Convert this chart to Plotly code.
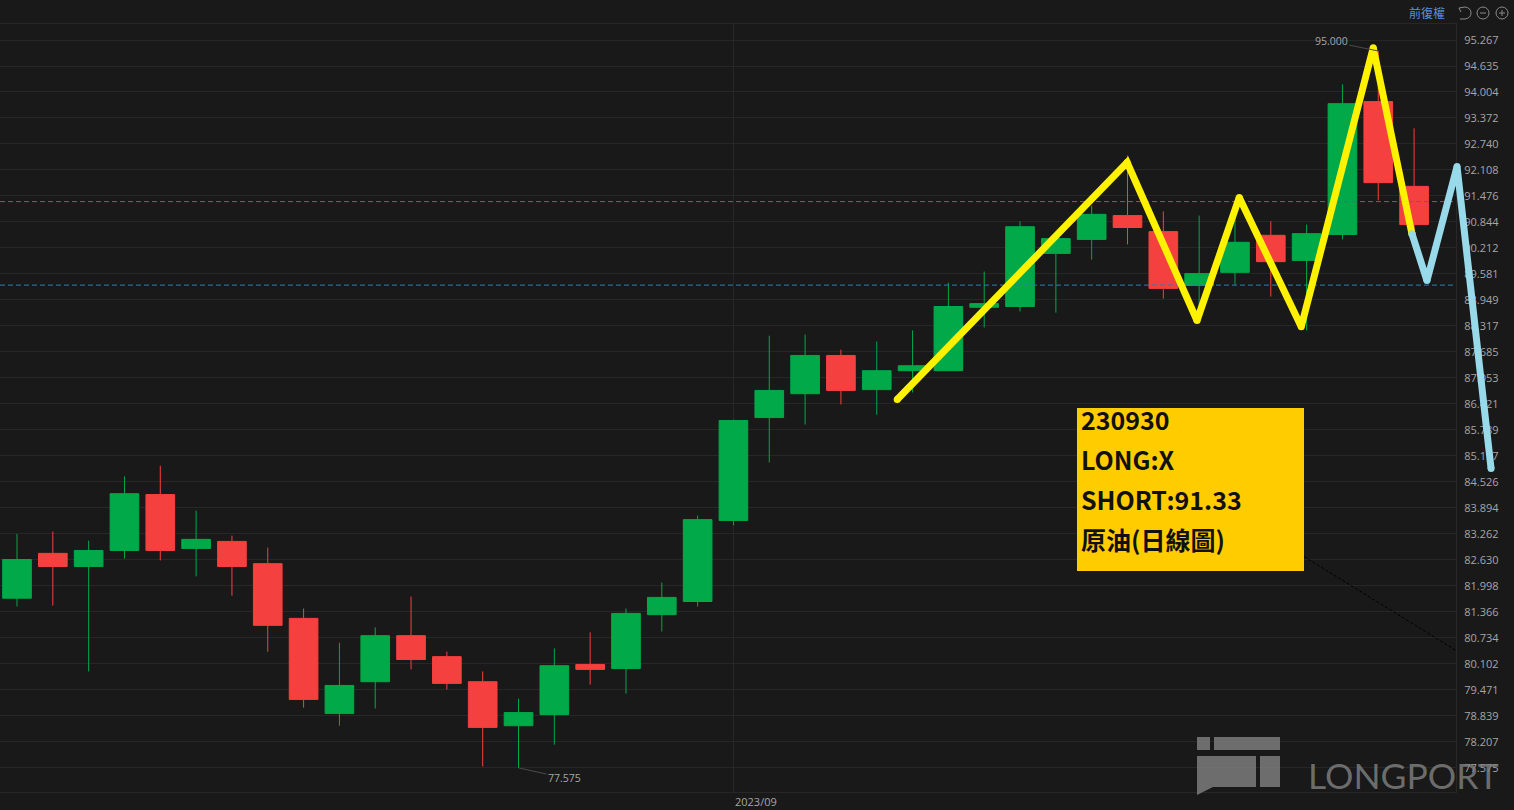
import plotly.graph_objects as go

opens = [81.70,82.79,82.47,82.86,84.22,82.91,83.08,82.54,81.21,78.90,
         79.67,80.79,80.28,79.67,78.60,78.87,80.09,79.99,81.30,81.62,
         83.59,86.09,86.67,87.60,86.77,87.23,87.23,88.77,88.79,90.08,
         90.42,91.00,90.61,89.30,89.62,90.52,89.91,90.54,93.77,91.71]
closes = [82.64,82.47,82.86,84.24,82.86,83.13,82.47,81.04,79.24,79.58,
          80.79,80.21,79.63,78.56,78.92,80.06,79.97,81.33,81.72,83.61,
          86.02,86.75,87.60,86.75,87.23,87.35,88.79,88.86,90.73,90.44,
          91.03,90.71,89.23,89.59,90.35,89.88,90.56,93.72,91.80,90.78]
highs = [83.26,83.32,83.10,84.66,84.92,83.83,83.22,82.93,81.45,80.62,
         80.99,81.74,80.40,79.92,79.26,80.48,80.87,81.45,82.08,83.71,
         86.04,88.08,88.11,87.74,87.94,88.21,89.37,89.64,90.86,90.50,
         91.24,92.46,91.10,91.00,90.95,90.86,90.78,94.19,95.00,93.12]
lows = [81.50,81.52,79.92,82.66,82.62,82.23,81.76,80.40,79.04,78.60,
        79.02,79.97,79.48,77.61,77.575,78.14,79.60,79.38,80.89,81.50,
        83.47,85.00,85.92,86.41,86.16,86.70,87.23,88.28,88.67,88.64,
        89.93,90.30,88.98,88.55,89.32,89.03,88.21,90.42,91.37,90.54]
sessions = list(range(len(opens)))

wave_x = [24.57,30.99,32.94,34.12,35.85,37.86,38.94]
wave_y = [86.53,92.29,88.45,91.44,88.30,95.08,90.56]
forecast_x = [38.94,39.36,40.20,41.15]
forecast_y = [90.56,89.42,92.19,84.85]
trend_x = [35.93,40.17]
trend_y = [82.71,80.43]

resistance = 91.34
support = 89.31

tick_values = [95.267,94.635,94.004,93.372,92.740,92.108,91.476,90.844,90.212,89.581,
               88.949,88.317,87.685,87.053,86.421,85.789,85.157,84.526,83.894,83.262,
               82.630,81.998,81.366,80.734,80.102,79.471,78.839,78.207,77.575]
tick_labels = [f"{v:.3f}" for v in tick_values]
month_index = 20
month_label = "2023/09"
note_lines = ["230930", "LONG:X", "SHORT:91.33", "原油(日線圖)"]

W, H = 1514, 810
MT, MB = 24, 18
AXIS_X = 1456
PH = H - MT - MB
def px(x): return x / W
def py(y): return (H - MB - y) / PH

BG = "#191919"
GRID = "#272727"
TXT = "#a6a6a6"
UP = "#02A948"
DOWN = "#F4403F"
XR = [-0.4746, 40.17]
XR_FULL = [-0.4746, 41.79]
YR = [76.99, 95.656]

fig = go.Figure()
fig.add_trace(go.Candlestick(
    x=sessions, open=opens, high=highs, low=lows, close=closes,
    increasing=dict(line=dict(color=UP, width=1), fillcolor=UP),
    decreasing=dict(line=dict(color=DOWN, width=1), fillcolor=DOWN),
    whiskerwidth=0, showlegend=False, hoverinfo="skip"))
fig.add_trace(go.Scatter(x=XR, y=[resistance, resistance], mode="lines", showlegend=False, hoverinfo="skip",
                         line=dict(color="#8a5560", width=1, dash="5px 3px")))
fig.add_trace(go.Scatter(x=XR, y=[support, support], mode="lines", showlegend=False, hoverinfo="skip",
                         line=dict(color="#2b7fb8", width=1, dash="5px 3px")))
fig.add_trace(go.Scatter(x=trend_x, y=trend_y, mode="lines", showlegend=False, hoverinfo="skip",
                         line=dict(color="#000000", width=1, dash="3px 2px")))
fig.add_trace(go.Scatter(x=wave_x, y=wave_y, mode="lines+markers", showlegend=False, hoverinfo="skip",
                         line=dict(color="#FFF200", width=7), marker=dict(color="#FFF200", size=7)))
fig.add_trace(go.Scatter(x=forecast_x, y=forecast_y, mode="lines+markers", showlegend=False, hoverinfo="skip",
                         xaxis="x2", yaxis="y2",
                         line=dict(color="#98D9EA", width=7), marker=dict(color="#98D9EA", size=7)))

shapes = [
    dict(type="rect", xref="paper", yref="paper", x0=px(1077), x1=px(1304), y0=py(571), y1=py(408),
         fillcolor="#FFCC00", line=dict(width=0)),
]
logo = "rgba(128,128,128,0.82)"
for x0, x1, y0, y1 in [(1197,1210,737,750),(1214,1280,737,750),(1260,1280,756,787)]:
    shapes.append(dict(type="rect", xref="paper", yref="paper", x0=px(x0), x1=px(x1), y0=py(y1), y1=py(y0),
                       fillcolor=logo, line=dict(width=0)))
tail = [(1197,756),(1256,756),(1256,787),(1213,787),(1197,795)]
shapes.append(dict(type="path", xref="paper", yref="paper", fillcolor=logo, line=dict(width=0),
                   path="M" + " L".join(f"{px(a):.5f},{py(b):.5f}" for a, b in tail) + " Z"))
icon = dict(color="#8a8a8a", width=1)
for cx in (1483, 1502):
    shapes.append(dict(type="circle", xref="paper", yref="paper", x0=px(cx-6), x1=px(cx+6),
                       y0=py(19), y1=py(7), line=icon))
    shapes.append(dict(type="line", xref="paper", yref="paper", x0=px(cx-3), x1=px(cx+3),
                       y0=py(13), y1=py(13), line=icon))
shapes.append(dict(type="line", xref="paper", yref="paper", x0=px(1502), x1=px(1502),
                   y0=py(16), y1=py(10), line=icon))
shapes.append(dict(type="path", xref="paper", yref="paper", line=icon,
                   path=f"M{px(1459):.5f},{py(8):.5f} L{px(1465):.5f},{py(7):.5f} "
                        f"Q{px(1471):.5f},{py(8):.5f} {px(1471):.5f},{py(13):.5f} "
                        f"Q{px(1471):.5f},{py(18):.5f} {px(1465):.5f},{py(19):.5f} "
                        f"L{px(1460):.5f},{py(19):.5f} M{px(1459):.5f},{py(8):.5f} L{px(1461):.5f},{py(12):.5f}"))

annots = []
for text, yy in zip(note_lines, (419, 459, 499, 539)):
    annots.append(dict(text=text, xref="paper", yref="paper", x=px(1079), y=py(yy), xanchor="left",
                       yanchor="middle", showarrow=False,
                       font=dict(family="Noto Sans CJK TC", size=25, color="#111111", weight=700)))
annots.append(dict(text=month_label, x=month_index, xref="x", yref="paper", y=py(801), xanchor="left",
                   yanchor="middle", showarrow=False, font=dict(family="Open Sans", size=11, color=TXT)))
annots.append(dict(text="95.000", x=38, y=max(highs), ax=-47, ay=-9.5, showarrow=True, arrowhead=0,
                   arrowwidth=1, arrowcolor="#4a4a4a", font=dict(family="Open Sans", size=10.5, color=TXT)))
annots.append(dict(text="77.575", x=14, y=min(lows), ax=46, ay=10, showarrow=True, arrowhead=0,
                   arrowwidth=1, arrowcolor="#4a4a4a", font=dict(family="Open Sans", size=10.5, color=TXT)))
annots.append(dict(text="前復權", xref="paper", yref="paper", x=px(1427), y=py(13), xanchor="center",
                   yanchor="middle", showarrow=False, font=dict(family="Noto Sans CJK TC", size=12, color="#5B8FD9")))
annots.append(dict(text="LONGPORT", xref="paper", yref="paper", x=px(1403), y=py(775), xanchor="center",
                   yanchor="middle", showarrow=False, font=dict(family="Lato", size=35.5, color="rgba(128,128,128,0.82)")))

fig.update_layout(
    width=W, height=H, autosize=False, margin=dict(l=0, r=0, t=MT, b=MB),
    paper_bgcolor=BG, plot_bgcolor="rgba(0,0,0,0)", showlegend=False, boxgap=0.2, boxgroupgap=0,
    shapes=shapes, annotations=annots,
    font=dict(family="Open Sans", color=TXT, size=12),
    xaxis=dict(domain=[0, AXIS_X / W], range=XR, rangeslider=dict(visible=False), tickmode="array",
               tickvals=[month_index], showticklabels=False, ticks="", showgrid=True,
               gridcolor=GRID, gridwidth=1, zeroline=False, showline=True, linecolor=GRID, mirror=True),
    yaxis=dict(range=YR, side="right", tickmode="array", tickvals=tick_values,
               ticktext=tick_labels, showgrid=True, gridcolor=GRID, gridwidth=1, zeroline=False,
               showline=True, linecolor=GRID, mirror=True, ticks="outside", ticklen=5,
               tickcolor="rgba(0,0,0,0)", tickfont=dict(family="Open Sans", size=11, color=TXT)),
    xaxis2=dict(domain=[0, 1], range=XR_FULL, visible=False, anchor="y2"),
    yaxis2=dict(domain=[0, 1], range=YR, visible=False, anchor="x2"),
)

fig.write_html("out.html", config={"displayModeBar": False},
               post_script="document.body.style.margin='0';document.body.style.background='#191919';")
